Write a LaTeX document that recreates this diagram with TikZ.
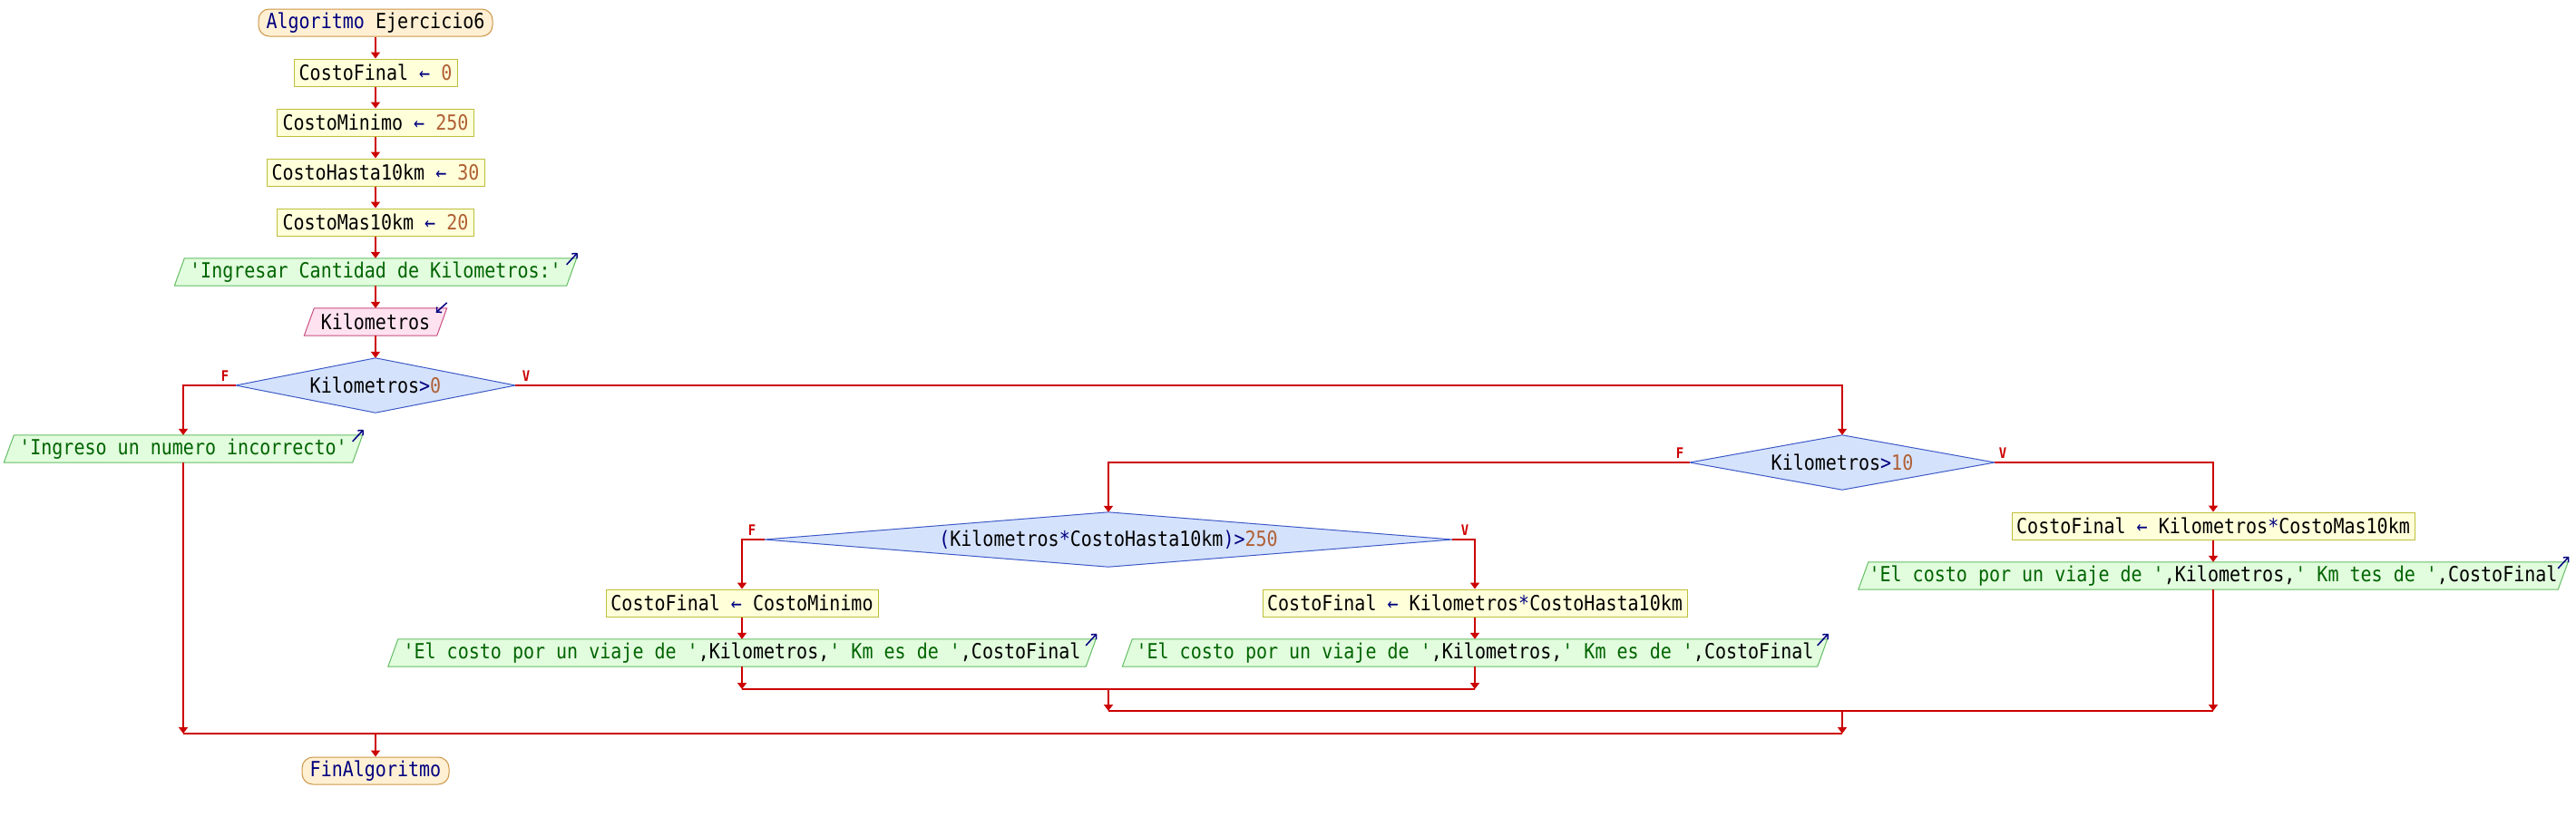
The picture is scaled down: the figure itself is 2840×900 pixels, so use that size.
\documentclass[tikz,border=0pt]{standalone}
\usepackage{fontspec}
\setmonofont{DejaVu Sans Mono}[FakeStretch=0.87]
\usetikzlibrary{arrows.meta,backgrounds}
\definecolor{kw}{RGB}{0,0,128}
\definecolor{numc}{RGB}{176,96,52}
\definecolor{strc}{RGB}{0,100,0}
\definecolor{termfill}{RGB}{255,240,212}
\definecolor{termdraw}{RGB}{205,150,70}
\definecolor{asgfill}{RGB}{255,255,218}
\definecolor{asgdraw}{RGB}{190,190,60}
\definecolor{outfill}{RGB}{226,252,222}
\definecolor{outdraw}{RGB}{100,190,100}
\definecolor{infill}{RGB}{255,226,240}
\definecolor{indraw}{RGB}{200,80,130}
\definecolor{decfill}{RGB}{213,226,252}
\definecolor{decdraw}{RGB}{60,90,200}
\definecolor{flowred}{RGB}{204,0,0}
\newcommand{\codesize}{\ttfamily\fontsize{23pt}{26pt}\selectfont}
\newcommand{\lblsize}{\ttfamily\bfseries\fontsize{16pt}{18pt}\selectfont}
\newcommand{\kwc}[1]{\textcolor{kw}{#1}}
\newcommand{\numt}[1]{\textcolor{numc}{#1}}
\newcommand{\strt}[1]{\textcolor{strc}{#1}}
\newcommand{\paraShape}[2]{\draw[#1] ([xshift=11pt]#2.north west) -- (#2.north east) -- ([xshift=-11pt]#2.south east) -- (#2.south west) -- cycle;}
\newcommand{\diaShape}[1]{\draw[decshape] (#1.north) -- (#1.east) -- (#1.south) -- (#1.west) -- cycle;}
\tikzset{
  basebox/.style={font=\codesize, inner sep=0pt, minimum height=30pt, text=black},
  term/.style={basebox, rectangle, rounded corners=12pt, draw=termdraw, fill=termfill, line width=1pt},
  assign/.style={basebox, rectangle, draw=asgdraw, fill=asgfill, line width=1pt},
  iobox/.style={basebox, rectangle},
  decbox/.style={basebox, rectangle, minimum height=60pt},
  outshape/.style={draw=outdraw, fill=outfill, line width=1pt},
  inshape/.style={draw=indraw, fill=infill, line width=1pt},
  decshape/.style={draw=decdraw, fill=decfill, line width=1pt},
  flow/.style={draw=flowred, line width=2pt, -{Triangle[length=7pt,width=10pt]}},
  flowline/.style={draw=flowred, line width=2pt},
  lbl/.style={text=flowred, font=\lblsize, inner sep=0pt},
  icon/.style={draw=kw, line width=1.5pt, -{Straight Barb[length=4pt,width=8pt]}},
}
\begin{document}
\begin{tikzpicture}[x=1pt,y=-1pt]
\useasboundingbox (0,0) rectangle (2840,900);
% main column
\node[term, minimum width=258pt] (start) at (414,25) {\kwc{Algoritmo} Ejercicio6};
\node[assign, minimum width=180pt] (a1) at (414,80) {CostoFinal \kwc{←} \numt{0}};
\node[assign, minimum width=217pt] (a2) at (414,135) {CostoMinimo \kwc{←} \numt{250}};
\node[assign, minimum width=240pt] (a3) at (414,190) {CostoHasta10km \kwc{←} \numt{30}};
\node[assign, minimum width=217pt] (a4) at (414,245) {CostoMas10km \kwc{←} \numt{20}};
\node[iobox, minimum width=443pt] (o1) at (414,300) {\strt{'Ingresar Cantidad de Kilometros:'}};
\node[iobox, minimum width=157pt] (i1) at (414,355) {Kilometros};
\node[decbox, minimum width=308pt] (d1) at (414,425) {Kilometros\kwc{>}\numt{0}};
% F branch of d1
\node[iobox, minimum width=395pt] (o2) at (202,495) {\strt{'Ingreso un numero incorrecto'}};
% V branch of d1
\node[decbox, minimum width=336pt] (d2) at (2031,510) {Kilometros\kwc{>}\numt{10}};
\node[assign, minimum width=444pt] (a5) at (2440,580) {CostoFinal \kwc{←} Kilometros\kwc{*}CostoMas10km};
\node[iobox, minimum width=782pt] (o3) at (2440,635) {\strt{'El costo por un viaje de '},Kilometros,\strt{' Km tes de '},CostoFinal};
\node[decbox, minimum width=758pt] (d3) at (1222,595) {\kwc{(}Kilometros\kwc{*}CostoHasta10km\kwc{)>}\numt{250}};
\node[assign, minimum width=300pt] (a6) at (818,665) {CostoFinal \kwc{←} CostoMinimo};
\node[iobox, minimum width=780pt] (o4) at (818,720) {\strt{'El costo por un viaje de '},Kilometros,\strt{' Km es de '},CostoFinal};
\node[assign, minimum width=468pt] (a7) at (1626,665) {CostoFinal \kwc{←} Kilometros\kwc{*}CostoHasta10km};
\node[iobox, minimum width=777pt] (o5) at (1626,720) {\strt{'El costo por un viaje de '},Kilometros,\strt{' Km es de '},CostoFinal};
\node[term, minimum width=162pt] (fin) at (414,850) {\kwc{FinAlgoritmo}};
% labels
\node[lbl] (d1f) at (248,415) {F};
\node[lbl] (d1v) at (580,415) {V};
\node[lbl] (d2f) at (1852,500) {F};
\node[lbl] (d2v) at (2208,500) {V};
\node[lbl] (d3f) at (829,585) {F};
\node[lbl] (d3v) at (1615,585) {V};
% merge coordinates
\coordinate (m3l) at (818,760);
\coordinate (m3r) at (1626,760);
\coordinate (m3c) at (1222,760);
\coordinate (m2l) at (1222,784);
\coordinate (m2r) at (2440,784);
\coordinate (m2c) at (2031,784);
\coordinate (m1l) at (202,809);
\coordinate (m1r) at (2031,809);
\coordinate (m1c) at (414,809);
% shapes on background
\begin{scope}[on background layer]
\fill[white] (0,0) rectangle (2840,900);
\paraShape{outshape}{o1}
\paraShape{inshape}{i1}
\paraShape{outshape}{o2}
\paraShape{outshape}{o3}
\paraShape{outshape}{o4}
\paraShape{outshape}{o5}
\diaShape{d1}
\diaShape{d2}
\diaShape{d3}
\end{scope}
% icons
\foreach \o in {o1,o2,o3,o4,o5}{
  \draw[icon] ([xshift=-11pt,yshift=-7pt]\o.north east) -- ([xshift=1pt,yshift=6pt]\o.north east);
}
\draw[icon] ([yshift=6pt]i1.north east) -- ([xshift=-12pt,yshift=-5pt]i1.north east);
% connectors
\draw[flow] (start.south) -- (a1.north);
\draw[flow] (a1.south) -- (a2.north);
\draw[flow] (a2.south) -- (a3.north);
\draw[flow] (a3.south) -- (a4.north);
\draw[flow] (a4.south) -- (o1.north);
\draw[flow] (o1.south) -- (i1.north);
\draw[flow] (i1.south) -- (d1.north);
\draw[flow] (d1.west) -| (o2.north);
\draw[flow] (d1.east) -| (d2.north);
\draw[flow] (d2.east) -| (a5.north);
\draw[flow] (a5.south) -- (o3.north);
\draw[flow] (d2.west) -| (d3.north);
\draw[flow] (d3.west) -| (a6.north);
\draw[flow] (a6.south) -- (o4.north);
\draw[flow] (d3.east) -| (a7.north);
\draw[flow] (a7.south) -- (o5.north);
\draw[flow] (o4.south) -- (m3l);
\draw[flow] (o5.south) -- (m3r);
\draw[flowline] (m3l) -- (m3r);
\draw[flow] (m3c) -- (m2l);
\draw[flow] (o3.south) -- (m2r);
\draw[flowline] (m2l) -- (m2r);
\draw[flow] (m2c) -- (m1r);
\draw[flow] (o2.south) -- (m1l);
\draw[flowline] (m1l) -- (m1r);
\draw[flow] (m1c) -- (fin.north);
\end{tikzpicture}
\end{document}
